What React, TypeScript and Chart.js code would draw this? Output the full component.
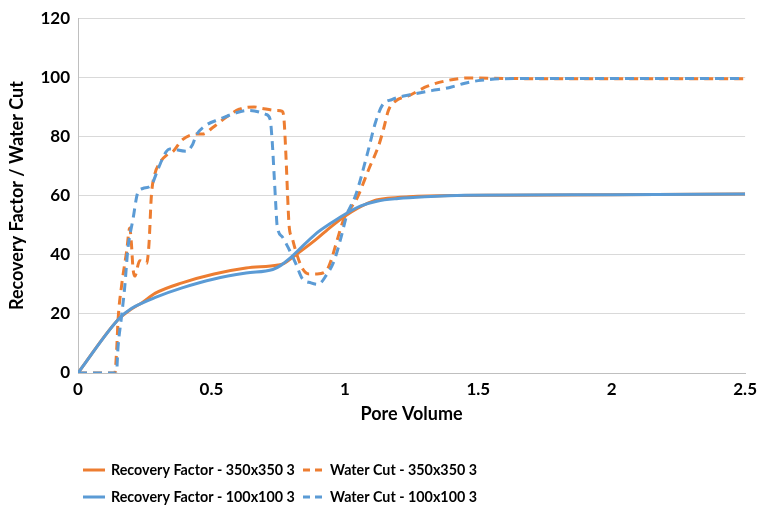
import { useEffect, useRef } from 'react';
import { Chart, registerables } from 'chart.js';

Chart.register(...registerables);

// Recovery Factor - 350x350 3
const rfOrangeX = [0, 0.15, 0.2, 0.24, 0.29, 0.39, 0.51, 0.63, 0.75, 0.77, 0.82, 0.89, 0.95, 1.0, 1.05, 1.11, 1.16, 1.24, 1.4, 1.6, 2.0, 2.5];
const rfOrangeY = [0, 18, 21.6, 23.8, 27, 30.5, 33.5, 35.5, 36.5, 37, 40.2, 45, 49.6, 53, 55.8, 58.3, 59.1, 59.6, 60, 60.1, 60.3, 60.5];

// Recovery Factor - 100x100 3
const rfBlueX = [0, 0.155, 0.2, 0.24, 0.29, 0.39, 0.51, 0.63, 0.73, 0.76, 0.79, 0.82, 0.89, 0.95, 1.01, 1.06, 1.12, 1.2, 1.3, 1.45, 2.0, 2.5];
const rfBlueY = [0, 18.5, 21.8, 23.6, 25.6, 28.8, 31.8, 33.8, 35, 36.4, 38.5, 41, 47, 50.8, 54.2, 56.5, 58.1, 59, 59.6, 60.1, 60.3, 60.5];

// Water Cut - 350x350 3
const wcOrangeX = [0, 0.138, 0.145, 0.15, 0.164, 0.182, 0.194, 0.2, 0.206, 0.213, 0.231, 0.257, 0.266, 0.275, 0.287, 0.306, 0.336, 0.355, 0.39, 0.443, 0.467, 0.505, 0.555, 0.604, 0.66, 0.69, 0.746, 0.766, 0.772, 0.78, 0.785, 0.791, 0.803, 0.817, 0.84, 0.866, 0.896, 0.93, 0.948, 0.97, 0.996, 1.045, 1.09, 1.127, 1.145, 1.164, 1.19, 1.24, 1.31, 1.4, 1.47, 1.6, 2.0, 2.5];
const wcOrangeY = [0, 0, 8, 17.8, 30, 41, 49, 44, 35.5, 32.8, 38, 37, 43.6, 60, 67, 71, 74, 74.8, 78.8, 80.8, 80.8, 83, 86.5, 89.2, 90, 89.5, 88.8, 88.5, 85.8, 72, 61, 50, 45.6, 41, 35.5, 33.5, 33.5, 34.5, 38, 44.6, 52, 59, 69, 77, 82.5, 89, 92, 93.8, 97, 99.2, 99.8, 99.6, 99.5, 99.5];

// Water Cut - 100x100 3
const wcBlueX = [0, 0.144, 0.15, 0.163, 0.175, 0.187, 0.206, 0.224, 0.243, 0.275, 0.3, 0.33, 0.343, 0.405, 0.43, 0.443, 0.48, 0.53, 0.593, 0.64, 0.704, 0.72, 0.728, 0.735, 0.742, 0.746, 0.766, 0.79, 0.817, 0.84, 0.873, 0.9, 0.93, 0.96, 0.985, 1.008, 1.04, 1.083, 1.115, 1.14, 1.176, 1.25, 1.325, 1.39, 1.45, 1.51, 1.64, 2.0, 2.5];
const wcBlueY = [0, 0, 8.7, 19, 29, 42, 52, 61, 62.4, 63.6, 69, 74.8, 75.8, 75, 77.4, 80.4, 83.8, 85.8, 88, 88.8, 87.5, 85.8, 78, 67, 55.6, 50, 46, 42, 36.8, 32, 30.5, 30, 33, 38, 45.6, 53.6, 60, 73.7, 84.8, 90.5, 92.5, 94.2, 95.5, 96.5, 98, 99, 99.6, 99.6, 99.6];

const seriesLabels = ['Recovery Factor - 350x350 3', 'Recovery Factor - 100x100 3', 'Water Cut - 350x350 3', 'Water Cut - 100x100 3'];
const xTitle = 'Pore Volume';
const yTitle = 'Recovery Factor / Water Cut';

const ORANGE = '#ED7D31';
const BLUE = '#5B9BD5';
const FONT = 'Lato, "Liberation Sans", sans-serif';

const toPts = (xs: number[], ys: number[]) => xs.map((x, i) => ({ x, y: ys[i] }));

const legendPlugin = {
  id: 'gridLegend',
  afterDraw(chart: any) {
    const ctx = chart.ctx;
    const ds = chart.data.datasets;
    const cols = [{ s: 83, e: 105, t: 111 }, { s: 303, e: 322, t: 330 }];
    const rows = [470, 497];
    const layout = [[0, 0], [1, 0], [0, 1], [1, 1]]; // [row, col]
    ctx.save();
    ctx.font = `bold 14.3px ${FONT}`;
    ctx.fillStyle = '#000';
    ctx.textBaseline = 'middle';
    ds.forEach((d: any, i: number) => {
      const [r, c] = layout[i];
      const y = rows[r];
      const col = cols[c];
      ctx.beginPath();
      ctx.strokeStyle = d.borderColor;
      ctx.lineWidth = 3;
      ctx.setLineDash(d.borderDash && d.borderDash.length ? [7, 5] : []);
      ctx.moveTo(col.s, y);
      ctx.lineTo(col.e, y);
      ctx.stroke();
      ctx.setLineDash([]);
      ctx.fillText(d.label, col.t, y);
    });
    ctx.restore();
  },
};

export default function App() {
  const ref = useRef<HTMLCanvasElement>(null);
  useEffect(() => {
    document.body.style.margin = '0';
    const canvas = ref.current;
    if (!canvas) return;
    const common = { fill: false, pointRadius: 0, borderWidth: 3, cubicInterpolationMode: 'monotone' as const, showLine: true };
    const chart = new Chart(canvas, {
      type: 'scatter',
      data: {
        datasets: [
          { ...common, label: seriesLabels[0], data: toPts(rfOrangeX, rfOrangeY), borderColor: ORANGE, backgroundColor: ORANGE, order: 3 },
          { ...common, label: seriesLabels[1], data: toPts(rfBlueX, rfBlueY), borderColor: BLUE, backgroundColor: BLUE, order: 1 },
          { ...common, label: seriesLabels[2], data: toPts(wcOrangeX, wcOrangeY), borderColor: ORANGE, backgroundColor: ORANGE, borderDash: [9, 6], order: 4 },
          { ...common, label: seriesLabels[3], data: toPts(wcBlueX, wcBlueY), borderColor: BLUE, backgroundColor: BLUE, borderDash: [9, 6], order: 2 },
        ],
      },
      options: {
        animation: false,
        responsive: false,
        layout: { padding: { left: 0, right: 15, top: 15, bottom: 81 } },
        plugins: { legend: { display: false }, tooltip: { enabled: false } },
        scales: {
          x: {
            type: 'linear',
            min: 0,
            max: 2.5,
            ticks: {
              stepSize: 0.5,
              color: '#000',
              font: { family: FONT, size: 17, weight: 'bold' },
              padding: 6,
              maxRotation: 0,
              callback: (v: any) => String(Number(v)),
            },
            grid: { display: false, drawTicks: false },
            border: { display: true, color: '#BFBFBF', width: 1 },
            title: { display: true, text: xTitle, color: '#000', font: { family: FONT, size: 18, weight: 'bold' }, padding: { top: 0, bottom: 3 } },
            afterFit: (s: any) => { s.height = 55; },
          },
          y: {
            min: 0,
            max: 120,
            ticks: { stepSize: 20, color: '#000', font: { family: FONT, size: 17, weight: 'bold' }, padding: 8 },
            grid: { color: '#D9D9D9', drawTicks: false },
            border: { display: true, color: '#BFBFBF', width: 1 },
            title: { display: true, text: yTitle, color: '#000', font: { family: FONT, size: 18, weight: 'bold' }, padding: { top: 6, bottom: 0 } },
            afterFit: (s: any) => { s.width = 78; },
          },
        },
      },
      plugins: [legendPlugin],
    });
    return () => chart.destroy();
  }, []);
  return (
    <div style={{ width: 763, height: 509 }}>
      <canvas ref={ref} width={763} height={509} style={{ display: 'block' }} />
    </div>
  );
}
